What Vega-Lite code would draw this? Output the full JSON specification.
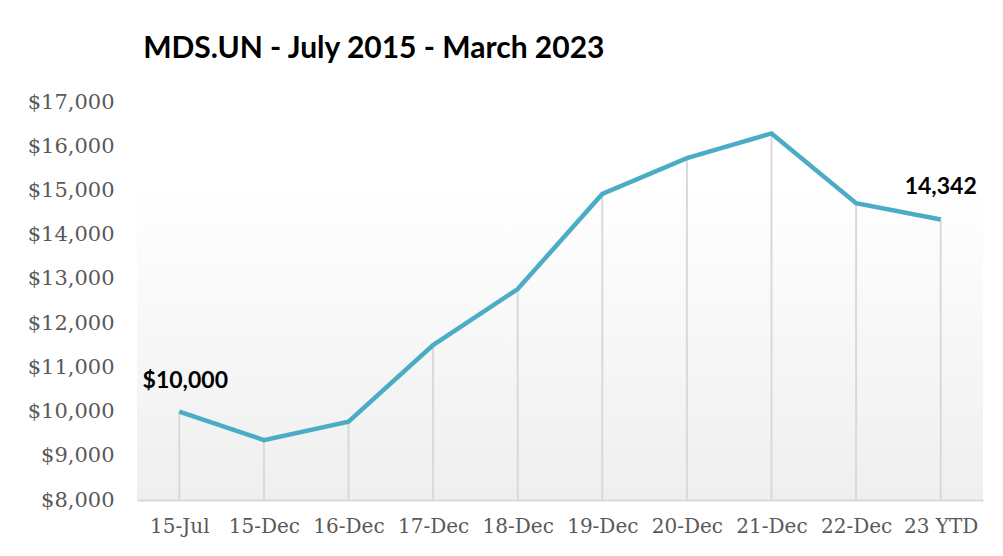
{
  "$schema": "https://vega.github.io/schema/vega-lite/v6.json",
  "width": 846,
  "height": 398,
  "autosize": {"type": "none"},
  "padding": {"left": 137, "top": 102, "right": 20, "bottom": 56},
  "background": "white",
  "config": {
    "view": {
      "stroke": null,
      "fill": {"gradient": "linear", "x1": 0, "y1": 0, "x2": 0, "y2": 1, "stops": [{"offset": 0, "color": "#ffffff"}, {"offset": 0.2, "color": "#ffffff"}, {"offset": 1, "color": "#efefef"}]}
    }
  },
  "title": {
    "text": "MDS.UN - July 2015 - March 2023",
    "anchor": "start",
    "dx": 116,
    "offset": 27,
    "font": "Lato",
    "fontSize": 30,
    "fontWeight": "bold",
    "color": "#000000"
  },
  "data": {
    "values": [
      {"period": "15-Jul", "value": 10000, "label": "$10,000"},
      {"period": "15-Dec", "value": 9355, "label": ""},
      {"period": "16-Dec", "value": 9770, "label": ""},
      {"period": "17-Dec", "value": 11505, "label": ""},
      {"period": "18-Dec", "value": 12770, "label": ""},
      {"period": "19-Dec", "value": 14920, "label": ""},
      {"period": "20-Dec", "value": 15730, "label": ""},
      {"period": "21-Dec", "value": 16290, "label": ""},
      {"period": "22-Dec", "value": 14710, "label": ""},
      {"period": "23 YTD", "value": 14342, "label": "14,342"}
    ]
  },
  "encoding": {
    "x": {
      "field": "period",
      "type": "ordinal",
      "sort": null,
      "scale": {"type": "point", "padding": 0.5},
      "axis": {
        "title": null,
        "labelAngle": 0,
        "labelFont": "DejaVu Serif",
        "labelFontSize": 20,
        "labelColor": "#595959",
        "labelPadding": 16,
        "ticks": false,
        "domainColor": "#d9d9d9",
        "domainWidth": 2,
        "grid": false
      }
    },
    "y": {
      "field": "value",
      "type": "quantitative",
      "scale": {"domain": [8000, 17000], "nice": false, "zero": false},
      "axis": {
        "title": null,
        "values": [8000, 9000, 10000, 11000, 12000, 13000, 14000, 15000, 16000, 17000],
        "format": "$,.0f",
        "labelFont": "DejaVu Serif",
        "labelFontSize": 21,
        "labelColor": "#595959",
        "labelPadding": 23,
        "ticks": false,
        "domain": false,
        "grid": false
      }
    }
  },
  "layer": [
    {
      "mark": {"type": "rule", "color": "#d9d9d9", "strokeWidth": 2},
      "encoding": {"y2": {"datum": 8000}}
    },
    {
      "mark": {"type": "line", "color": "#4BACC6", "strokeWidth": 4.5, "strokeJoin": "miter"}
    },
    {
      "transform": [{"filter": "datum.period == '15-Jul'"}],
      "mark": {"type": "text", "font": "Lato", "fontSize": 23, "fontWeight": "bold", "color": "#000000", "dy": -31, "dx": 6},
      "encoding": {"text": {"field": "label"}}
    },
    {
      "transform": [{"filter": "datum.period == '23 YTD'"}],
      "mark": {"type": "text", "font": "Lato", "fontSize": 23, "fontWeight": "bold", "color": "#000000", "dy": -33, "dx": 0},
      "encoding": {"text": {"field": "label"}}
    }
  ]
}
